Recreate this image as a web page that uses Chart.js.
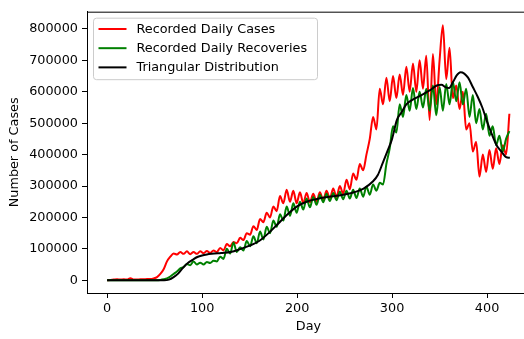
<!DOCTYPE html>
<html><head><meta charset="utf-8">
<script src="https://cdn.jsdelivr.net/npm/chart.js@4/dist/chart.umd.min.js"></script>
<style>html,body{margin:0;padding:0;overflow:hidden;background:#fff}#wrap{width:532px;height:339px}</style>
</head><body><div id="wrap"><canvas id="c" width="532" height="339"></canvas></div>
<script>
const days=[0,3.5,7,10.5,14,17.5,21,24.5,28,31.5,35,38.5,42,45.5,49,52.5,56,59.5,63,66.5,70,73.5,77,80.5,84,87.5,91,94.5,98,101.5,105,108.5,112,115.5,119,122.5,126,129.5,133,136.5,140,143.5,147,150.5,154,157.5,161,164.5,168,171.5,175,178.5,182,185.5,189,192.5,196,199.5,203,206.5,210,213.5,217,220.5,224,227.5,231,234.5,238,241.5,245,248.5,252,255.5,259,262.5,266,269.5,273,276.5,280,283.5,287,290.5,294,297.5,301,304.5,308,311.5,315,318.5,322,325.5,329,332.5,336,339.5,343,346.5,350,353.5,357,360.5,364,367.5,371,374.5,378,381.5,385,388.5,392,395.5,399,402.5,406,409.5,413,416.5,420,423.5];
const recordedCases=[0,1000,2000,3000,2000,3000,2000,6000,2000,2000,3000,3000,4000,4000,6000,10000,
20000,35000,60000,75000,85000,82000,90000,84000,92000,83000,90000,84000,92000,86000,93000,87000,95000,90000,103000,95000,
115000,108000,122000,118000,135000,128000,150000,145000,172000,160000,195000,185000,215000,200000,235000,220000,
268000,245000,288000,250000,285000,245000,280000,245000,278000,248000,275000,250000,280000,255000,285000,260000,292000,265000,300000,275000,
320000,290000,340000,320000,370000,350000,400000,450000,520000,480000,610000,560000,645000,570000,650000,580000,655000,590000,680000,600000,
690000,600000,700000,610000,715000,510000,720000,560000,700000,812000,640000,740000,580000,620000,545000,600000,480000,500000,410000,440000,
330000,400000,345000,415000,355000,420000,370000,430000,400000,530000];
const recordedRecoveries=[0,0,0,0,0,0,0,0,0,0,0,0,0,0,0,0,
1000,3000,6000,12000,20000,28000,38000,42000,52000,48000,60000,50000,56000,50000,58000,55000,62000,60000,75000,68000,
100000,85000,120000,90000,105000,95000,125000,108000,140000,118000,155000,130000,170000,150000,190000,170000,
210000,190000,235000,205000,245000,215000,250000,225000,260000,232000,265000,240000,272000,248000,275000,252000,278000,255000,282000,258000,
285000,260000,288000,262000,292000,266000,298000,272000,305000,285000,310000,305000,370000,420000,490000,470000,560000,520000,590000,540000,
612000,545000,600000,550000,610000,540000,620000,525000,615000,540000,625000,560000,632000,570000,630000,560000,610000,520000,590000,500000,
545000,480000,530000,460000,490000,430000,460000,410000,450000,475000];
const triDays=[0,10,20,30,40,50,60,65,70,75,80,85,90,95,100,105,110,120,130,140,150,160,170,180,190,200,210,220,230,240,250,260,270,280,285,290,295,300,305,310,315,320,330,340,347,352,356,360,364,368,372,376,380,385,390,395,400,405,410,415,420,424];
const triValues=[0,0,0,0,0,0,0,2000,10000,22000,40000,55000,65000,74000,79000,82000,84000,87000,90000,99000,110000,125000,150000,180000,210000,235000,250000,258000,264000,268000,273000,280000,292000,315000,335000,372000,410000,450000,510000,535000,560000,572000,588000,605000,620000,622000,615000,612000,630000,652000,662000,658000,645000,615000,585000,550000,505000,465000,430000,410000,392000,390000];
const seriesLabels=['Recorded Daily Cases','Recorded Daily Recoveries','Triangular Distribution'];
const xTicks=[0,100,200,300,400];
const yTicks=[0,100000,200000,300000,400000,500000,600000,700000,800000];
const xTitle='Day';
const yTitle='Number of Cases';

const FONT='"DejaVu Sans", sans-serif';
const FS=12.8;
const toXY=(xs,ys)=>xs.map((x,i)=>({x:x,y:ys[i]}));

const framePlugin={id:'frame',afterDraw(chart){
  const a=chart.chartArea,ctx=chart.ctx;
  ctx.save();ctx.strokeStyle='#000';ctx.lineWidth=1;
  ctx.beginPath();ctx.moveTo(a.left,a.top+0.5);ctx.lineTo(a.right,a.top+0.5);
  ctx.moveTo(a.right-0.5,a.top);ctx.lineTo(a.right-0.5,a.bottom);ctx.stroke();ctx.restore();
}};
const legendPlugin={id:'mplLegend',afterDatasetsDraw(chart){
  const a=chart.chartArea,ctx=chart.ctx;
  const x0=a.left+6.5,y0=a.top+6.5,w=224,h=61.5,r=3;
  ctx.save();
  ctx.beginPath();
  ctx.moveTo(x0+r,y0);ctx.lineTo(x0+w-r,y0);ctx.quadraticCurveTo(x0+w,y0,x0+w,y0+r);
  ctx.lineTo(x0+w,y0+h-r);ctx.quadraticCurveTo(x0+w,y0+h,x0+w-r,y0+h);
  ctx.lineTo(x0+r,y0+h);ctx.quadraticCurveTo(x0,y0+h,x0,y0+h-r);
  ctx.lineTo(x0,y0+r);ctx.quadraticCurveTo(x0,y0,x0+r,y0);ctx.closePath();
  ctx.fillStyle='rgba(255,255,255,0.8)';ctx.fill();
  ctx.strokeStyle='#cccccc';ctx.lineWidth=1;ctx.stroke();
  ctx.font=FS+'px '+FONT;ctx.textBaseline='middle';ctx.textAlign='left';
  chart.data.datasets.forEach((ds,i)=>{
    const yy=y0+10.8+i*19.2;
    ctx.strokeStyle=ds.borderColor;ctx.lineWidth=2;
    ctx.beginPath();ctx.moveTo(x0+5,yy);ctx.lineTo(x0+33,yy);ctx.stroke();
    ctx.fillStyle='#000';ctx.fillText(ds.label,x0+43,yy+0.5);
  });
  ctx.restore();
}};

new Chart(document.getElementById('c'),{
  type:'line',
  data:{datasets:[
    {label:seriesLabels[0],data:toXY(days,recordedCases),borderColor:'#ff0000',borderWidth:2,pointRadius:0,cubicInterpolationMode:'monotone',order:2},
    {label:seriesLabels[1],data:toXY(days,recordedRecoveries),borderColor:'#008000',borderWidth:2,pointRadius:0,cubicInterpolationMode:'monotone',order:1},
    {label:seriesLabels[2],data:toXY(triDays,triValues),borderColor:'#000000',borderWidth:2,pointRadius:0,cubicInterpolationMode:'monotone',order:0}
  ]},
  options:{
    responsive:false,animation:false,
    layout:{padding:{top:6,right:2,left:0,bottom:0}},
    plugins:{legend:{display:false},tooltip:{enabled:false}},
    scales:{
      x:{type:'linear',min:-21.2,max:445.2,
        afterBuildTicks:s=>{s.ticks=xTicks.map(v=>({value:v}));},
        afterFit:s=>{s.height=46;},
        ticks:{callback:v=>String(v),font:{family:FONT,size:FS},color:'#000',padding:3,maxRotation:0},
        grid:{display:true,drawOnChartArea:false,drawTicks:true,tickLength:5,color:'#000',tickWidth:1},
        border:{display:true,color:'#000',width:1},
        title:{display:true,text:xTitle,font:{family:FONT,size:FS},color:'#000',padding:{top:0,bottom:5}}
      },
      y:{type:'linear',min:-40600,max:855000,
        afterBuildTicks:s=>{s.ticks=yTicks.map(v=>({value:v}));},
        afterFit:s=>{s.width=87;},
        ticks:{callback:v=>String(v),font:{family:FONT,size:FS},color:'#000',padding:4},
        grid:{display:true,drawOnChartArea:false,drawTicks:true,tickLength:5,color:'#000',tickWidth:1},
        border:{display:true,color:'#000',width:1},
        title:{display:true,text:yTitle,font:{family:FONT,size:FS},color:'#000',padding:{top:7,bottom:0}}
      }
    }
  },
  plugins:[framePlugin,legendPlugin]
});
</script></body></html>
